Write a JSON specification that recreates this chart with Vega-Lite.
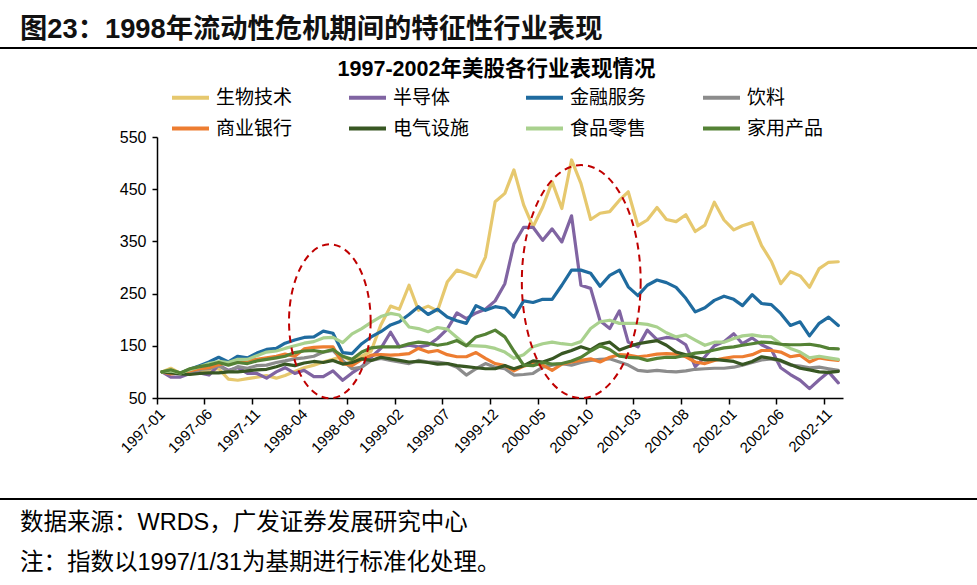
{
  "$schema": "https://vega.github.io/schema/vega-lite/v6.json",
  "background": "white",
  "padding": 0,
  "spacing": 0,
  "bounds": "flush",
  "config": {
    "view": {"stroke": null},
    "font": "Liberation Sans, Noto Sans CJK SC",
    "axis": {"domainColor": "#000", "tickColor": "#000", "labelColor": "#000", "grid": false, "domainWidth": 1.5, "tickWidth": 1.5, "labelFont": "Liberation Sans"}
  },
  "vconcat": [
    {"data": {"values": []}, "mark": "point", "width": 977, "height": 47, "view": {"fill": "white", "stroke": null}},
    {"data": {"values": []}, "mark": "point", "width": 977, "height": 2, "view": {"fill": "#000", "stroke": null},
     "title": {"text": "图23：1998年流动性危机期间的特征性行业表现", "orient": "top", "anchor": "start", "frame": "group", "dx": 20, "offset": 4, "font": "Liberation Sans, Noto Sans CJK SC", "fontSize": 27.3, "fontWeight": "bold", "color": "#111"}},
    {"data": {"values": []}, "mark": "point", "width": 977, "height": 1,
     "title": {"text": "1997-2002年美股各行业表现情况", "orient": "bottom", "anchor": "middle", "frame": "group", "dx": 8, "offset": 9, "font": "Liberation Sans, Noto Sans CJK SC", "fontSize": 21.5, "fontWeight": "bold", "color": "#000"}},
    {"data": {"values": []}, "mark": "point", "width": 977, "height": 87},
    {
      "width": 850,
      "height": 261,
      "data": {
        "format": {"parse": {"date": "utc:'%Y-%m-%d'"}},
        "values": [
          {"date": "1997-01-31", "生物技术": 100, "半导体": 100, "金融服务": 100, "饮料": 100, "商业银行": 100, "电气设施": 100, "食品零售": 100, "家用产品": 100},
          {"date": "1997-02-28", "生物技术": 107, "半导体": 90, "金融服务": 101, "饮料": 102, "商业银行": 96, "电气设施": 98, "食品零售": 102, "家用产品": 104},
          {"date": "1997-03-31", "生物技术": 97, "半导体": 90, "金融服务": 98, "饮料": 98, "商业银行": 98, "电气设施": 96, "食品零售": 98, "家用产品": 98},
          {"date": "1997-04-30", "生物技术": 100, "半导体": 97, "金融服务": 105, "饮料": 100, "商业银行": 102, "电气设施": 95, "食品零售": 104, "家用产品": 106},
          {"date": "1997-05-31", "生物技术": 102, "半导体": 98, "金融服务": 112, "饮料": 105, "商业银行": 106, "电气设施": 97, "食品零售": 110, "家用产品": 110},
          {"date": "1997-06-30", "生物技术": 104, "半导体": 94, "金融服务": 119, "饮料": 106, "商业银行": 108, "电气设施": 98, "食品零售": 116, "家用产品": 113},
          {"date": "1997-07-31", "生物技术": 106, "半导体": 113, "金融服务": 128, "饮料": 112, "商业银行": 114, "电气设施": 98, "食品零售": 120, "家用产品": 118},
          {"date": "1997-08-31", "生物技术": 86, "半导体": 103, "金融服务": 119, "饮料": 101, "商业银行": 118, "电气设施": 100, "食品零售": 118, "家用产品": 113},
          {"date": "1997-09-30", "生物技术": 84, "半导体": 108, "金融服务": 130, "饮料": 110, "商业银行": 120, "电气设施": 100, "食品零售": 124, "家用产品": 118},
          {"date": "1997-10-31", "生物技术": 87, "半导体": 97, "金融服务": 127, "饮料": 107, "商业银行": 122, "电气设施": 102, "食品零售": 124, "家用产品": 116},
          {"date": "1997-11-30", "生物技术": 90, "半导体": 97, "金融服务": 136, "饮料": 112, "商业银行": 124, "电气设施": 104, "食品零售": 131, "家用产品": 121},
          {"date": "1997-12-31", "生物技术": 93, "半导体": 88, "金融服务": 143, "饮料": 113, "商业银行": 127, "电气设施": 105, "食品零售": 138, "家用产品": 124},
          {"date": "1998-01-31", "生物技术": 88, "半导体": 100, "金融服务": 145, "饮料": 118, "商业银行": 130, "电气设施": 110, "食品零售": 140, "家用产品": 127},
          {"date": "1998-02-28", "生物技术": 93, "半导体": 108, "金融服务": 155, "饮料": 121, "商业银行": 134, "电气设施": 115, "食品零售": 145, "家用产品": 130},
          {"date": "1998-03-31", "生物技术": 101, "半导体": 97, "金融服务": 161, "饮料": 125, "商业银行": 130, "电气设施": 112, "食品零售": 150, "家用产品": 137},
          {"date": "1998-04-30", "生物技术": 108, "半导体": 103, "金融服务": 166, "饮料": 127, "商业银行": 144, "电气设施": 117, "食品零售": 155, "家用产品": 140},
          {"date": "1998-05-31", "生物技术": 113, "半导体": 91, "金融服务": 167, "饮料": 130, "商业银行": 147, "电气设施": 120, "食品零售": 158, "家用产品": 141},
          {"date": "1998-06-30", "生物技术": 119, "半导体": 91, "金融服务": 178, "饮料": 138, "商业银行": 148, "电气设施": 118, "食品零售": 165, "家用产品": 138},
          {"date": "1998-07-31", "生物技术": 124, "半导体": 102, "金融服务": 174, "饮料": 141, "商业银行": 148, "电气设施": 122, "食品零售": 166, "家用产品": 143},
          {"date": "1998-08-31", "生物技术": 130, "半导体": 84, "金融服务": 137, "饮料": 122, "商业银行": 116, "电气设施": 115, "食品零售": 156, "家用产品": 130},
          {"date": "1998-09-30", "生物技术": 120, "半导体": 98, "金融服务": 135, "饮料": 106, "商业银行": 112, "电气设施": 118, "食品零售": 173, "家用产品": 124},
          {"date": "1998-10-31", "生物技术": 130, "半导体": 110, "金融服务": 154, "饮料": 109, "商业银行": 124, "电气设施": 125, "食品零售": 183, "家用产品": 138},
          {"date": "1998-11-30", "生物技术": 140, "半导体": 128, "金融服务": 167, "饮料": 122, "商业银行": 132, "电气设施": 122, "食品零售": 195, "家用产品": 146},
          {"date": "1998-12-31", "生物技术": 190, "半导体": 145, "金融服务": 177, "饮料": 126, "商业银行": 133, "电气设施": 128, "食品零售": 206, "家用产品": 148},
          {"date": "1999-01-31", "生物技术": 226, "半导体": 176, "金融服务": 190, "饮料": 122, "商业银行": 132, "电气设施": 125, "食品零售": 212, "家用产品": 148},
          {"date": "1999-02-28", "生物技术": 220, "半导体": 148, "金融服务": 196, "饮料": 119, "商业银行": 133, "电气设施": 122, "食品零售": 209, "家用产品": 148},
          {"date": "1999-03-31", "生物技术": 266, "半导体": 151, "金融服务": 210, "饮料": 116, "商业银行": 135, "电气设施": 119, "食品零售": 186, "家用产品": 154},
          {"date": "1999-04-30", "生物技术": 218, "半导体": 148, "金融服务": 225, "饮料": 122, "商业银行": 145, "电气设施": 120, "食品零售": 183, "家用产品": 157},
          {"date": "1999-05-31", "生物技术": 226, "半导体": 151, "金融服务": 210, "饮料": 119, "商业银行": 138, "电气设施": 118, "食品零售": 177, "家用产品": 155},
          {"date": "1999-06-30", "生物技术": 217, "半导体": 164, "金融服务": 220, "饮料": 119, "商业银行": 141, "电气设施": 115, "食品零售": 185, "家用产品": 151},
          {"date": "1999-07-31", "生物技术": 272, "半导体": 182, "金融服务": 205, "饮料": 116, "商业银行": 133, "电气设施": 116, "食品零售": 182, "家用产品": 154},
          {"date": "1999-08-31", "生物技术": 295, "半导体": 213, "金融服务": 198, "饮料": 109, "商业银行": 129, "电气设施": 112, "食品零售": 166, "家用产品": 160},
          {"date": "1999-09-30", "生物技术": 289, "半导体": 202, "金融服务": 193, "饮料": 94, "商业银行": 129, "电气设施": 110, "食品零售": 151, "家用产品": 150},
          {"date": "1999-10-31", "生物技术": 282, "半导体": 213, "金融服务": 227, "饮料": 106, "商业银行": 137, "电气设施": 108, "食品零售": 150, "家用产品": 167},
          {"date": "1999-11-30", "生物技术": 320, "半导体": 220, "金融服务": 218, "饮料": 116, "商业银行": 126, "电气设施": 106, "食品零售": 149, "家用产品": 172},
          {"date": "1999-12-31", "生物技术": 426, "半导体": 236, "金融服务": 225, "饮料": 109, "商业银行": 116, "电气设施": 106, "食品零售": 145, "家用产品": 180},
          {"date": "2000-01-31", "生物技术": 442, "半导体": 269, "金融服务": 222, "饮料": 106, "商业银行": 112, "电气设施": 112, "食品零售": 138, "家用产品": 167},
          {"date": "2000-02-29", "生物技术": 487, "半导体": 345, "金融服务": 205, "饮料": 94, "商业银行": 102, "电气设施": 106, "食品零售": 126, "家用产品": 140},
          {"date": "2000-03-31", "生物技术": 420, "半导体": 377, "金融服务": 236, "饮料": 95, "商业银行": 111, "电气设施": 112, "食品零售": 133, "家用产品": 113},
          {"date": "2000-04-30", "生物技术": 378, "半导体": 377, "金融服务": 233, "饮料": 97, "商业银行": 116, "电气设施": 121, "食品零售": 148, "家用产品": 112},
          {"date": "2000-05-31", "生物技术": 416, "半导体": 352, "金融服务": 239, "饮料": 109, "商业银行": 113, "电气设施": 119, "食品零售": 154, "家用产品": 118},
          {"date": "2000-06-30", "生物技术": 464, "半导体": 374, "金融服务": 239, "饮料": 113, "商业银行": 103, "电气设施": 125, "食品零售": 157, "家用产品": 115},
          {"date": "2000-07-31", "生物技术": 413, "半导体": 349, "金融服务": 266, "饮料": 116, "商业银行": 115, "电气设施": 135, "食品零售": 154, "家用产品": 116},
          {"date": "2000-08-31", "生物技术": 506, "半导体": 399, "金融服务": 295, "饮料": 113, "商业银行": 119, "电气设施": 141, "食品零售": 152, "家用产品": 121},
          {"date": "2000-09-30", "生物技术": 461, "半导体": 266, "金融服务": 295, "饮料": 118, "商业银行": 122, "电气设施": 148, "食品零售": 158, "家用产品": 128},
          {"date": "2000-10-31", "生物技术": 392, "半导体": 260, "金融服务": 289, "饮料": 122, "商业银行": 125, "电气设施": 142, "食品零售": 183, "家用产品": 140},
          {"date": "2000-11-30", "生物技术": 404, "半导体": 198, "金融服务": 264, "饮料": 124, "商业银行": 119, "电气设施": 153, "食品零售": 196, "家用产品": 150},
          {"date": "2000-12-31", "生物技术": 407, "半导体": 183, "金融服务": 285, "饮料": 125, "商业银行": 128, "电气设施": 157, "食品零售": 199, "家用产品": 143},
          {"date": "2001-01-31", "生物技术": 429, "半导体": 217, "金融服务": 295, "饮料": 119, "商业银行": 133, "电气设施": 142, "食品零售": 193, "家用产品": 130},
          {"date": "2001-02-28", "生物技术": 445, "半导体": 157, "金融服务": 263, "饮料": 113, "商业银行": 132, "电气设施": 148, "食品零售": 193, "家用产品": 128},
          {"date": "2001-03-31", "生物技术": 380, "半导体": 148, "金融服务": 246, "饮料": 103, "商业银行": 129, "电气设施": 154, "食品零售": 193, "家用产品": 127},
          {"date": "2001-04-30", "生物技术": 391, "半导体": 180, "金融服务": 266, "饮料": 101, "商业银行": 131, "电气设施": 157, "食品零售": 191, "家用产品": 122},
          {"date": "2001-05-31", "生物技术": 415, "半导体": 162, "金融服务": 276, "饮料": 103, "商业银行": 134, "电气设施": 160, "食品零售": 186, "家用产品": 126},
          {"date": "2001-06-30", "生物技术": 392, "半导体": 166, "金融服务": 271, "饮料": 101, "商业银行": 135, "电气设施": 151, "食品零售": 175, "家用产品": 128},
          {"date": "2001-07-31", "生物技术": 388, "半导体": 164, "金融服务": 262, "饮料": 100, "商业银行": 134, "电气设施": 138, "食品零售": 167, "家用产品": 128},
          {"date": "2001-08-31", "生物技术": 401, "半导体": 152, "金融服务": 241, "饮料": 102, "商业银行": 129, "电气设施": 133, "食品零售": 171, "家用产品": 132},
          {"date": "2001-09-30", "生物技术": 369, "半导体": 110, "金融服务": 215, "饮料": 105, "商业银行": 119, "电气设施": 128, "食品零售": 161, "家用产品": 136},
          {"date": "2001-10-31", "生物技术": 381, "半导体": 129, "金融服务": 223, "饮料": 106, "商业银行": 116, "电气设施": 123, "食品零售": 151, "家用产品": 138},
          {"date": "2001-11-30", "生物技术": 425, "半导体": 150, "金融服务": 237, "饮料": 107, "商业银行": 122, "电气设施": 124, "食品零售": 157, "家用产品": 142},
          {"date": "2001-12-31", "生物技术": 391, "半导体": 158, "金融服务": 245, "饮料": 107, "商业银行": 126, "电气设施": 122, "食品零售": 157, "家用产品": 146},
          {"date": "2002-01-31", "生物技术": 372, "半导体": 173, "金融服务": 239, "饮料": 109, "商业银行": 129, "电气设施": 120, "食品零售": 164, "家用产品": 148},
          {"date": "2002-02-28", "生物技术": 380, "半导体": 154, "金融服务": 227, "饮料": 113, "商业银行": 129, "电气设施": 114, "食品零售": 169, "家用产品": 151},
          {"date": "2002-03-31", "生物技术": 386, "半导体": 165, "金融服务": 248, "饮料": 118, "商业银行": 133, "电气设施": 120, "食品零售": 171, "家用产品": 154},
          {"date": "2002-04-30", "生物技术": 342, "半导体": 152, "金融服务": 231, "饮料": 123, "商业银行": 141, "电气设施": 129, "食品零售": 168, "家用产品": 157},
          {"date": "2002-05-31", "生物技术": 312, "半导体": 143, "金融服务": 229, "饮料": 125, "商业银行": 141, "电气设施": 126, "食品零售": 167, "家用产品": 156},
          {"date": "2002-06-30", "生物技术": 269, "半导体": 108, "金融服务": 212, "饮料": 121, "商业银行": 138, "电气设施": 122, "食品零售": 154, "家用产品": 153},
          {"date": "2002-07-31", "生物技术": 292, "半导体": 95, "金融服务": 189, "饮料": 113, "商业银行": 129, "电气设施": 114, "食品零售": 145, "家用产品": 152},
          {"date": "2002-08-31", "生物技术": 284, "半导体": 84, "金融服务": 196, "饮料": 111, "商业银行": 132, "电气设施": 107, "食品零售": 138, "家用产品": 152},
          {"date": "2002-09-30", "生物技术": 262, "半导体": 68, "金融服务": 169, "饮料": 108, "商业银行": 119, "电气设施": 104, "食品零售": 127, "家用产品": 153},
          {"date": "2002-10-31", "生物技术": 298, "半导体": 85, "金融服务": 193, "饮料": 109, "商业银行": 127, "电气设施": 100, "食品零售": 130, "家用产品": 150},
          {"date": "2002-11-30", "生物技术": 310, "半导体": 100, "金融服务": 205, "饮料": 106, "商业银行": 124, "电气设施": 99, "食品零售": 127, "家用产品": 145},
          {"date": "2002-12-31", "生物技术": 311, "半导体": 79, "金融服务": 189, "饮料": 103, "商业银行": 122, "电气设施": 101, "食品零售": 124, "家用产品": 144}
        ]
      },
      "layer": [
        {
          "transform": [{"fold": ["生物技术", "半导体", "金融服务", "饮料", "商业银行", "电气设施", "食品零售", "家用产品"], "as": ["industry", "value"]}],
          "mark": {"type": "line", "strokeWidth": 3.2, "strokeJoin": "round", "strokeCap": "round"},
          "encoding": {
            "x": {
              "field": "date", "type": "temporal",
              "scale": {"type": "utc", "range": [157, 843], "domain": [{"year": 1997, "month": 1, "date": 15, "utc": true}, {"year": 2003, "month": 1, "date": 15, "utc": true}]},
              "axis": {
                "title": null,
                "values": [
                  {"year": 1997, "month": 1, "date": 15, "utc": true},
                  {"year": 1997, "month": 6, "date": 15, "utc": true},
                  {"year": 1997, "month": 11, "date": 15, "utc": true},
                  {"year": 1998, "month": 4, "date": 15, "utc": true},
                  {"year": 1998, "month": 9, "date": 15, "utc": true},
                  {"year": 1999, "month": 2, "date": 15, "utc": true},
                  {"year": 1999, "month": 7, "date": 15, "utc": true},
                  {"year": 1999, "month": 12, "date": 15, "utc": true},
                  {"year": 2000, "month": 5, "date": 15, "utc": true},
                  {"year": 2000, "month": 10, "date": 15, "utc": true},
                  {"year": 2001, "month": 3, "date": 15, "utc": true},
                  {"year": 2001, "month": 8, "date": 15, "utc": true},
                  {"year": 2002, "month": 1, "date": 15, "utc": true},
                  {"year": 2002, "month": 6, "date": 15, "utc": true},
                  {"year": 2002, "month": 11, "date": 15, "utc": true}
                ],
                "labelExpr": "utcFormat(datum.value, '%Y-%m')",
                "labelAngle": -45,
                "labelAlign": "right",
                "labelBaseline": "top",
                "labelPadding": 2,
                "labelFontSize": 15,
                "tickSize": 6,
                "labelOverlap": false,
                "labelFlush": false
              }
            },
            "y": {
              "field": "value", "type": "quantitative",
              "scale": {"domain": [50, 550], "nice": false, "zero": false},
              "axis": {"title": null, "offset": -157, "values": [50, 100, 150, 200, 250, 300, 350, 400, 450, 500, 550], "tickSize": 5, "labelPadding": 6, "labelFontSize": 16}
            },
            "color": {
              "field": "industry", "type": "nominal",
              "scale": {
                "domain": ["生物技术", "半导体", "金融服务", "饮料", "商业银行", "电气设施", "食品零售", "家用产品"],
                "range": ["#E6C86E", "#8064A2", "#1F6B9F", "#8C8C8C", "#ED7D31", "#385723", "#A9D18E", "#548235"]
              },
              "legend": {
                "orient": "none", "legendX": 170, "legendY": 77,
                "direction": "horizontal", "columns": 4, "columnPadding": 48, "rowPadding": -19,
                "gridAlign": "all",
                "symbolType": "stroke", "symbolSize": 1369, "symbolStrokeWidth": 4,
                "labelFont": "Noto Sans CJK SC", "labelFontSize": 19, "labelColor": "#000", "labelOffset": 5, "labelLimit": 200,
                "title": null
              }
            }
          }
        },
        {
          "data": {"format": {"parse": {"date": "utc:'%Y-%m-%d'"}}, "values": [{"date": "1998-07-21", "value": 197}]},
          "mark": {"type": "point", "shape": "M0.53,0C0.53,0.5523,0.2927,1,0,1C-0.2927,1,-0.53,0.5523,-0.53,0C-0.53,-0.5523,-0.2927,-1,0,-1C0.2927,-1,0.53,-0.5523,0.53,0Z", "size": 23716, "filled": false, "color": "#C00000", "stroke": "#C00000", "strokeWidth": 2, "strokeDash": [7, 5], "opacity": 1},
          "encoding": {"x": {"field": "date", "type": "temporal"}, "y": {"field": "value", "type": "quantitative"}}
        },
        {
          "data": {"format": {"parse": {"date": "utc:'%Y-%m-%d'"}}, "values": [{"date": "2000-10-01", "value": 273}]},
          "mark": {"type": "point", "shape": "M0.51,0C0.51,0.5523,0.2817,1,0,1C-0.2817,1,-0.51,0.5523,-0.51,0C-0.51,-0.5523,-0.2817,-1,0,-1C0.2817,-1,0.51,-0.5523,0.51,0Z", "size": 54289, "filled": false, "color": "#C00000", "stroke": "#C00000", "strokeWidth": 2, "strokeDash": [7, 5], "opacity": 1},
          "encoding": {"x": {"field": "date", "type": "temporal"}, "y": {"field": "value", "type": "quantitative"}}
        }
      ]
    },
    {"data": {"values": []}, "mark": "point", "width": 977, "height": 100},
    {"data": {"values": []}, "mark": "point", "width": 977, "height": 2, "view": {"fill": "#000", "stroke": null},
     "title": {"text": ["数据来源：WRDS，广发证券发展研究中心", "注：指数以1997/1/31为基期进行标准化处理。"], "orient": "bottom", "anchor": "start", "frame": "group", "dx": 20, "offset": 11, "font": "Liberation Sans, Noto Sans CJK SC", "fontSize": 23.5, "fontWeight": "normal", "lineHeight": 40, "color": "#000"}}
  ]
}
